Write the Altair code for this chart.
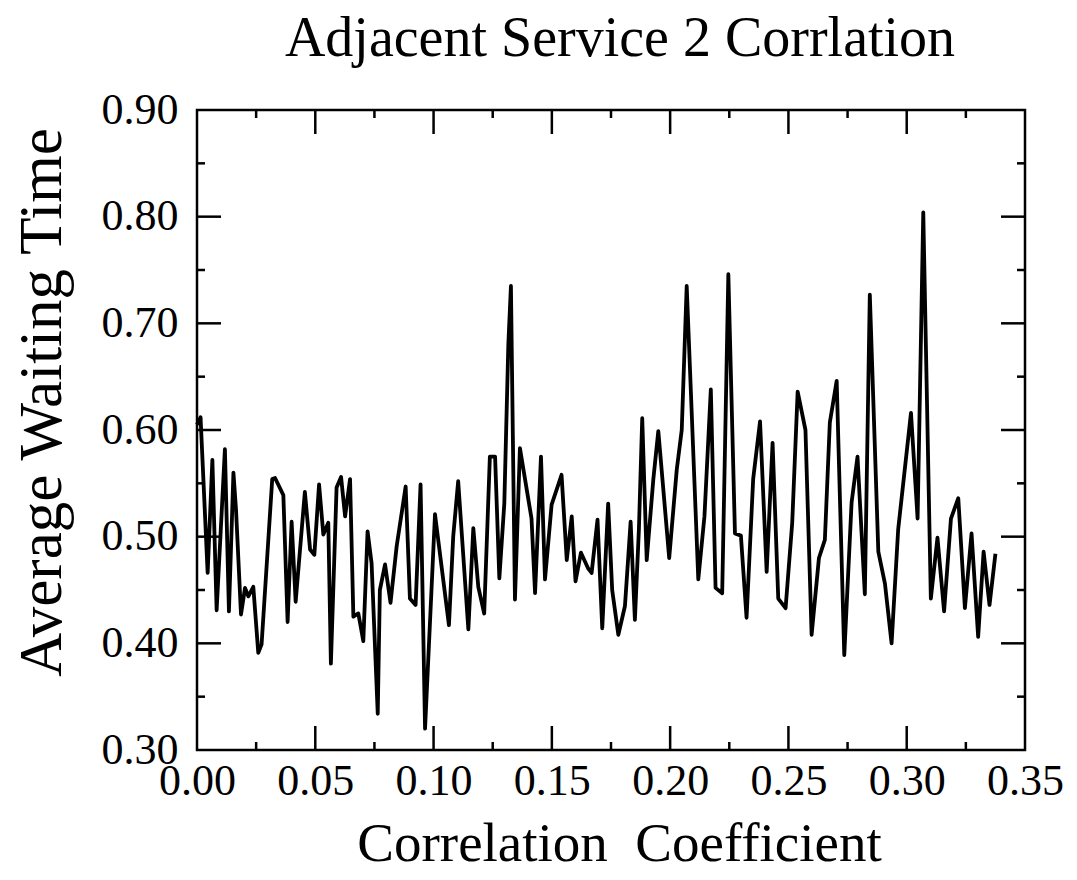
import altair as alt
import pandas as pd

# Data
corr = [0.0000, 0.0015, 0.0045, 0.0065, 0.0083, 0.0118, 0.0135, 0.0154, 0.0165, 0.0186,
        0.0203, 0.0217, 0.0238, 0.0259, 0.0273, 0.0318, 0.0330, 0.0365, 0.0383, 0.0400,
        0.0417, 0.0456, 0.0478, 0.0496, 0.0516, 0.0534, 0.0555, 0.0566, 0.0590, 0.0609,
        0.0626, 0.0647, 0.0661, 0.0682, 0.0703, 0.0721, 0.0738, 0.0764, 0.0773, 0.0795,
        0.0818, 0.0844, 0.0882, 0.0900, 0.0924, 0.0945, 0.0964, 0.1006, 0.1065, 0.1083,
        0.1104, 0.1147, 0.1168, 0.1189, 0.1214, 0.1238, 0.1260, 0.1278, 0.1299, 0.1316,
        0.1327, 0.1344, 0.1365, 0.1414, 0.1429, 0.1454, 0.1471, 0.1499, 0.1541, 0.1563,
        0.1584, 0.1600, 0.1623, 0.1654, 0.1668, 0.1693, 0.1713, 0.1738, 0.1755, 0.1781,
        0.1809, 0.1833, 0.1851, 0.1868, 0.1882, 0.1901, 0.1929, 0.1950, 0.1996, 0.2028,
        0.2049, 0.2070, 0.2119, 0.2145, 0.2172, 0.2192, 0.2220, 0.2246, 0.2274, 0.2299,
        0.2323, 0.2351, 0.2380, 0.2408, 0.2433, 0.2457, 0.2488, 0.2516, 0.2539, 0.2572,
        0.2598, 0.2629, 0.2654, 0.2675, 0.2704, 0.2736, 0.2767, 0.2792, 0.2823, 0.2844,
        0.2880, 0.2908, 0.2936, 0.2964, 0.3018, 0.3046, 0.3070, 0.3102, 0.3130, 0.3158,
        0.3187, 0.3218, 0.3246, 0.3274, 0.3302, 0.3325, 0.3350, 0.3375]
wait = [0.605, 0.612, 0.466, 0.572, 0.431, 0.582, 0.430, 0.560, 0.525, 0.427,
        0.452, 0.444, 0.453, 0.391, 0.399, 0.554, 0.555, 0.539, 0.420, 0.514,
        0.439, 0.542, 0.488, 0.483, 0.549, 0.502, 0.513, 0.381, 0.546, 0.556,
        0.519, 0.554, 0.425, 0.428, 0.402, 0.505, 0.475, 0.334, 0.450, 0.474,
        0.438, 0.491, 0.547, 0.442, 0.436, 0.549, 0.320, 0.521, 0.417, 0.500,
        0.552, 0.413, 0.508, 0.453, 0.428, 0.575, 0.575, 0.461, 0.531, 0.680,
        0.735, 0.441, 0.583, 0.517, 0.447, 0.575, 0.460, 0.530, 0.558, 0.478,
        0.519, 0.458, 0.485, 0.470, 0.466, 0.516, 0.414, 0.531, 0.450, 0.408,
        0.435, 0.514, 0.422, 0.507, 0.611, 0.478, 0.554, 0.599, 0.480, 0.563,
        0.600, 0.735, 0.460, 0.519, 0.638, 0.452, 0.447, 0.746, 0.503, 0.501,
        0.424, 0.554, 0.608, 0.467, 0.588, 0.442, 0.433, 0.513, 0.636, 0.600,
        0.408, 0.480, 0.497, 0.607, 0.646, 0.389, 0.532, 0.575, 0.446, 0.727,
        0.486, 0.456, 0.400, 0.507, 0.616, 0.517, 0.804, 0.442, 0.499, 0.430,
        0.517, 0.536, 0.433, 0.503, 0.406, 0.486, 0.436, 0.484]

x_labels = [0.00, 0.05, 0.10, 0.15, 0.20, 0.25, 0.30, 0.35]
y_labels = [0.30, 0.40, 0.50, 0.60, 0.70, 0.80, 0.90]
x_major = [0.05, 0.10, 0.15, 0.20, 0.25, 0.30]
x_minor = [0.025, 0.075, 0.125, 0.175, 0.225, 0.275, 0.325]
y_major = [0.40, 0.50, 0.60, 0.70, 0.80]
y_minor = [0.35, 0.45, 0.55, 0.65, 0.75, 0.85]

W, H = 828, 640
FONT = "Liberation Serif"
MAJ, MIN = 24, 8

xs = alt.Scale(domain=[0, 0.35], nice=False, zero=False)
ys = alt.Scale(domain=[0.30, 0.90], nice=False, zero=False)

x_axis = alt.Axis(
    values=x_labels, format=".2f", grid=False, ticks=False, domain=False,
    labelFont=FONT, labelFontSize=44, labelColor="black", labelPadding=9,
    labelFlush=False, labelOverlap=False,
    title="Correlation\u00a0 Coefficient", titleFont=FONT, titleFontSize=55,
    titleFontWeight="normal", titleColor="black", titleX=422, titleY=110,
    titleBaseline="alphabetic", titleAlign="center")
y_axis = alt.Axis(
    values=y_labels, format=".2f", grid=False, ticks=False, domain=False,
    labelFont=FONT, labelFontSize=44, labelColor="black", labelPadding=19,
    labelFlush=False, labelOverlap=False,
    title="Average Waiting Time", titleFont=FONT, titleFontSize=61,
    titleFontWeight="normal", titleColor="black", titleAngle=270,
    titleX=-137, titleY=292, titleBaseline="alphabetic", titleAlign="center")

df = pd.DataFrame({"x": corr, "y": wait})

line = alt.Chart(df).mark_line(color="black", strokeWidth=3.8, strokeJoin="round").encode(
    x=alt.X("x:Q", scale=xs, axis=x_axis),
    y=alt.Y("y:Q", scale=ys, axis=y_axis),
)

def xticks(vals, length):
    d = pd.DataFrame({"x": vals})
    bottom = alt.Chart(d).mark_rule(color="black", strokeWidth=2.5).encode(
        x=alt.X("x:Q", scale=xs, axis=x_axis), y=alt.value(H), y2=alt.value(H - length))
    top = alt.Chart(d).mark_rule(color="black", strokeWidth=2.5).encode(
        x=alt.X("x:Q", scale=xs, axis=x_axis), y=alt.value(0), y2=alt.value(length))
    return [bottom, top]

def yticks(vals, length):
    d = pd.DataFrame({"y": vals})
    left = alt.Chart(d).mark_rule(color="black", strokeWidth=2.5).encode(
        y=alt.Y("y:Q", scale=ys, axis=y_axis), x=alt.value(0), x2=alt.value(length))
    right = alt.Chart(d).mark_rule(color="black", strokeWidth=2.5).encode(
        y=alt.Y("y:Q", scale=ys, axis=y_axis), x=alt.value(W), x2=alt.value(W - length))
    return [left, right]

layers = [line] + xticks(x_major, MAJ) + xticks(x_minor, MIN) + yticks(y_major, MAJ) + yticks(y_minor, MIN)

chart = alt.layer(*layers).properties(
    width=W, height=H,
    title=alt.Title("Adjacent Service 2 Corrlation", font=FONT, fontSize=56,
                    fontWeight="normal", color="black", anchor="middle",
                    frame="group", baseline="alphabetic", offset=54, dx=9, dy=78),
    autosize=alt.AutoSizeParams(type="none"),
    padding={"left": 197, "top": 110, "right": 52, "bottom": 130},
).configure_view(stroke="black", strokeWidth=2.5)

chart.save("out.html", embed_options={"renderer": "svg", "actions": False})
